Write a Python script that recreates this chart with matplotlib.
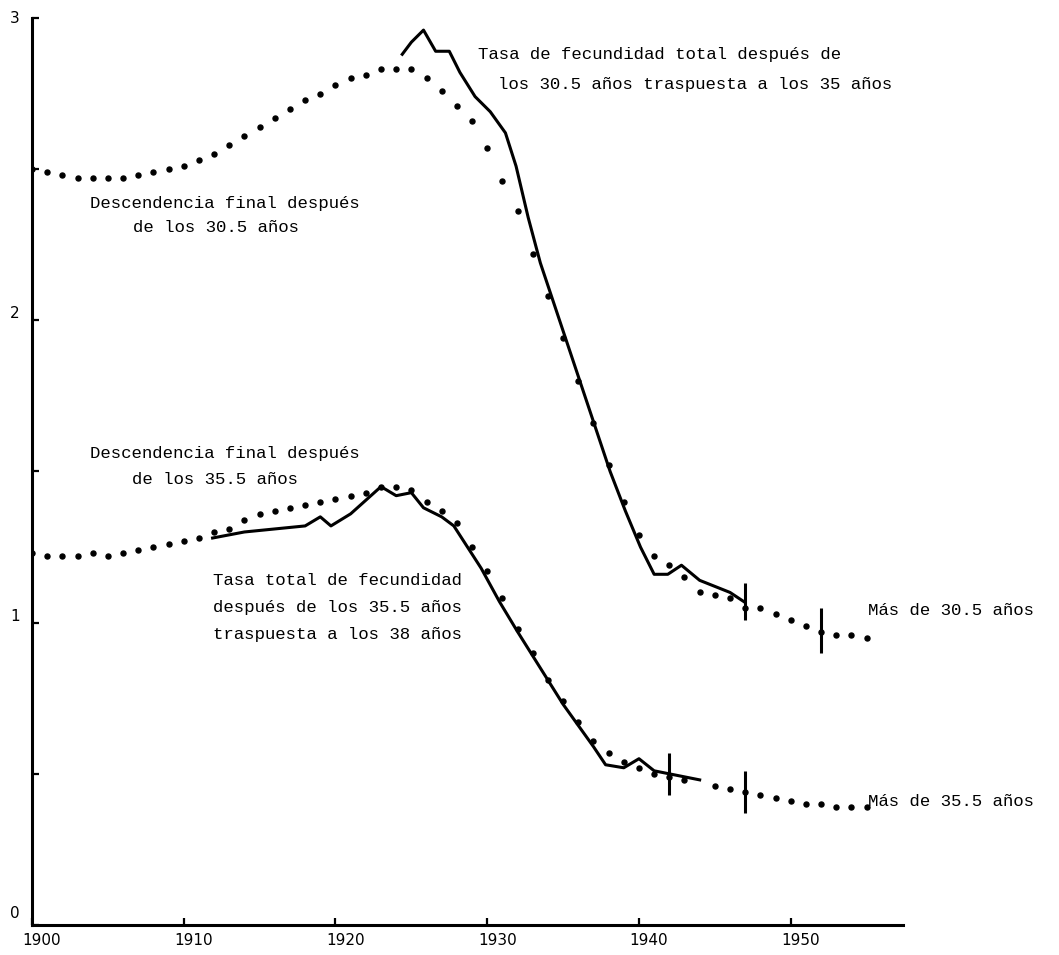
import matplotlib
matplotlib.use("Agg")
import matplotlib.pyplot as plt
import matplotlib.transforms as mtransforms

# Upper group: after 30.5 years
upper_dot_years = list(range(1900, 1956))
upper_dot_vals = [2.50, 2.49, 2.48, 2.47, 2.47, 2.47, 2.47, 2.48, 2.49, 2.50,
                  2.51, 2.53, 2.55, 2.58, 2.61, 2.64, 2.67, 2.70, 2.73, 2.75,
                  2.78, 2.80, 2.81, 2.83, 2.83, 2.83, 2.80, 2.76, 2.71, 2.66,
                  2.57, 2.46, 2.36, 2.22, 2.08, 1.94, 1.80, 1.66, 1.52, 1.40,
                  1.29, 1.22, 1.19, 1.15, 1.10, 1.09, 1.08, 1.05, 1.05, 1.03,
                  1.01, 0.99, 0.97, 0.96, 0.96, 0.95]

upper_line_years = [1924.4, 1925.0, 1925.8, 1926.6, 1927.5, 1928.2, 1929.2,
                    1930.2, 1931.2, 1931.9, 1932.7, 1933.5, 1934.1, 1935.1,
                    1936.1, 1937.1, 1938.1, 1939.1, 1940.1, 1941.0, 1941.9,
                    1942.8, 1944.0, 1945.0, 1946.0, 1946.9]
upper_line_vals = [2.88, 2.92, 2.96, 2.89, 2.89, 2.82, 2.74,
                   2.69, 2.62, 2.51, 2.34, 2.19, 2.10, 1.95,
                   1.80, 1.65, 1.50, 1.37, 1.25, 1.16, 1.16,
                   1.19, 1.14, 1.12, 1.10, 1.07]

# Lower group: after 35.5 years
lower_dot_years = list(range(1900, 1944)) + list(range(1945, 1956))
lower_dot_vals = [1.23, 1.22, 1.22, 1.22, 1.23, 1.22, 1.23, 1.24, 1.25, 1.26,
                  1.27, 1.28, 1.30, 1.31, 1.34, 1.36, 1.37, 1.38, 1.39, 1.40,
                  1.41, 1.42, 1.43, 1.45, 1.45, 1.44, 1.40, 1.37, 1.33, 1.25,
                  1.17, 1.08, 0.98, 0.90, 0.81, 0.74, 0.67, 0.61, 0.57, 0.54,
                  0.52, 0.50, 0.49, 0.48,
                  0.46, 0.45, 0.44, 0.43, 0.42, 0.41, 0.40, 0.40, 0.39, 0.39,
                  0.39]

lower_line_years = [1911.9, 1914, 1916, 1918, 1919, 1919.7, 1921, 1923, 1924,
                    1925, 1925.8, 1927, 1927.8, 1928.7, 1929.6, 1930.8, 1932,
                    1933, 1934, 1935, 1936, 1937, 1937.8, 1939, 1940, 1941,
                    1942, 1943, 1944]
lower_line_vals = [1.28, 1.30, 1.31, 1.32, 1.35, 1.32, 1.36, 1.45, 1.42,
                   1.43, 1.38, 1.35, 1.32, 1.25, 1.18, 1.07, 0.97,
                   0.89, 0.81, 0.73, 0.66, 0.59, 0.53, 0.52, 0.55, 0.51,
                   0.50, 0.49, 0.48]

# short vertical markers on the curves
upper_bar_years = [1947, 1952]
upper_bar_lo = [1.01, 0.90]
upper_bar_hi = [1.13, 1.05]
lower_bar_years = [1942, 1947]
lower_bar_lo = [0.43, 0.37]
lower_bar_hi = [0.57, 0.51]

x_ticks = [1900, 1910, 1920, 1930, 1940, 1950]
y_ticks = [0, 1, 2, 3]
y_minor = [0.5, 1.5, 2.5]
y_label_lift = [13, 8, 8, 1]   # hand-lettered labels sit a little above the ticks

MONO = ["Liberation Mono", "DejaVu Sans Mono"]

fig = plt.figure(figsize=(10.59, 9.55), dpi=100)
ax = fig.add_axes([32 / 1059, 30 / 955, (903 - 32) / 1059, (937 - 30) / 955])

ax.plot(upper_dot_years, upper_dot_vals, "o", ms=3.6, color="black", ls="none")
ax.plot(lower_dot_years, lower_dot_vals, "o", ms=3.6, color="black", ls="none")
ax.plot(upper_line_years, upper_line_vals, "-", lw=2.2, color="black")
ax.plot(lower_line_years, lower_line_vals, "-", lw=2.2, color="black")
ax.vlines(upper_bar_years, upper_bar_lo, upper_bar_hi, color="black", lw=2.2)
ax.vlines(lower_bar_years, lower_bar_lo, lower_bar_hi, color="black", lw=2.2)

ax.set_xlim(1900, 1957.4)
ax.set_ylim(0, 3)
for side in ("top", "right"):
    ax.spines[side].set_visible(False)
for side in ("left", "bottom"):
    ax.spines[side].set_linewidth(2.2)

ax.set_xticks(x_ticks)
ax.set_xticklabels([str(t) for t in x_ticks])
ax.set_yticks(y_ticks)
ax.set_yticklabels([str(t) for t in y_ticks])
ax.set_yticks(y_minor, minor=True)
ax.tick_params(axis="x", direction="in", length=5, width=1.6, pad=6, labelsize=11)
ax.tick_params(axis="y", which="both", direction="in", length=5, width=1.6,
               pad=9, labelsize=11)

dx = mtransforms.ScaledTranslation(10 / 100, 0, fig.dpi_scale_trans)
for lab in ax.get_xticklabels():
    lab.set_transform(lab.get_transform() + dx)
for lab, lift in zip(ax.get_yticklabels(), y_label_lift):
    dy = mtransforms.ScaledTranslation(0, lift / 100, fig.dpi_scale_trans)
    lab.set_transform(lab.get_transform() + dy)

labels = [
    (1929.38, 2.88, "Tasa de fecundidad total después de"),
    (1930.70, 2.78, "los 30.5 años traspuesta a los 35 años"),
    (1903.82, 2.386, "Descendencia final después"),
    (1906.65, 2.307, "de los 30.5 años"),
    (1903.82, 1.561, "Descendencia final después"),
    (1906.59, 1.472, "de los 35.5 años"),
    (1911.92, 1.139, "Tasa total de fecundidad"),
    (1911.92, 1.049, "después de los 35.5 años"),
    (1911.92, 0.960, "traspuesta a los 38 años"),
    (1955.07, 1.04, "Más de 30.5 años"),
    (1955.07, 0.41, "Más de 35.5 años"),
]
for x, y, s in labels:
    ax.text(x, y, s, family=MONO, fontsize=12.5, ha="left", va="center",
            clip_on=False)

fig.savefig("out.png", dpi=100)
